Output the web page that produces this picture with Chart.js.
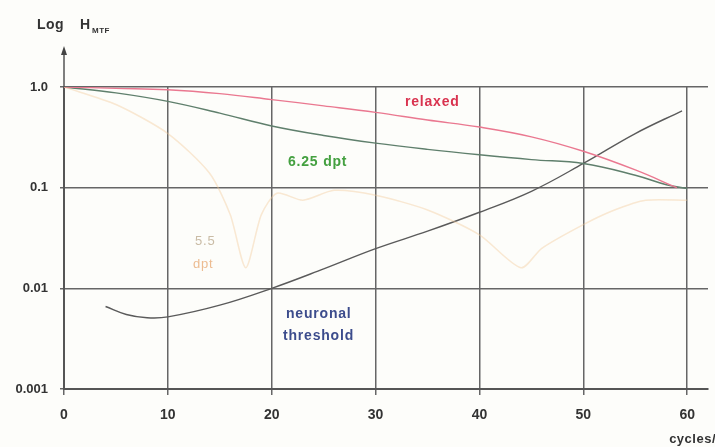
<!DOCTYPE html>
<html>
<head>
<meta charset="utf-8">
<script src="https://cdn.jsdelivr.net/npm/chart.js@4/dist/chart.umd.min.js"></script>
<style>
  html, body { margin: 0; padding: 0; background: #fdfdfa; }
  #wrap { width: 715px; height: 447px; }
</style>
</head>
<body>
<div id="wrap"><canvas id="mtfChart"></canvas></div>
<script>
// values (x = cycles/deg, y = MTF, log scale)
const relaxedX = [0, 5, 10, 15, 20, 25, 30, 35, 40, 45, 50, 55, 59]
const relaxedY = [1.0, 0.97, 0.94, 0.86, 0.75, 0.65, 0.56, 0.47, 0.40, 0.32, 0.23, 0.15, 0.10]

const dpt625X = [0, 5, 10, 15, 20, 25, 30, 35, 40, 45, 50, 55, 58, 60]
const dpt625Y = [1.0, 0.875, 0.72, 0.55, 0.41, 0.33, 0.277, 0.24, 0.212, 0.19, 0.174, 0.133, 0.107, 0.098]

const dpt55X = [0, 5, 10, 14, 16, 17.5, 19, 20.5, 23, 26, 30, 35, 40, 44, 46, 50, 53, 56, 60]
const dpt55Y = [1.0, 0.67, 0.345, 0.14, 0.054, 0.016, 0.054, 0.088, 0.075, 0.094, 0.084, 0.06, 0.034, 0.016, 0.025, 0.043, 0.06, 0.075, 0.075]

const neuronalX = [4, 6, 8, 10, 15, 20, 25, 30, 35, 40, 45, 50, 55, 59.5]
const neuronalY = [0.0066, 0.0055, 0.0051, 0.0052, 0.0068, 0.010, 0.0156, 0.0248, 0.037, 0.057, 0.092, 0.174, 0.345, 0.58]

const xTicks = [0, 10, 20, 30, 40, 50, 60]
const yTicks = [0.001, 0.01, 0.1, 1]
const yTickLabels = {0.001: '0.001', 0.01: '0.01', 0.1: '0.1', 1: '1.0'}

function toPoints(xs, ys) {
    return xs.map((x, i) => ({x: x, y: ys[i]}))
}

const textFont = '"Liberation Sans", Arial, sans-serif'

// curve labels, y-axis arrow, axis captions
const decorations = {
    id: 'decorations',
    afterDraw(chart) {
        const ctx = chart.ctx
        const area = chart.chartArea
        ctx.save()

        // y axis arrow going past 1.0
        ctx.strokeStyle = '#555'
        ctx.lineWidth = 1.5
        ctx.beginPath()
        ctx.moveTo(area.left, area.top)
        ctx.lineTo(area.left, 52)
        ctx.stroke()
        ctx.fillStyle = '#444'
        ctx.beginPath()
        ctx.moveTo(area.left, 46)
        ctx.lineTo(area.left - 3, 55)
        ctx.lineTo(area.left + 3, 55)
        ctx.closePath()
        ctx.fill()

        // axis captions
        ctx.fillStyle = '#333'
        ctx.textBaseline = 'alphabetic'
        ctx.textAlign = 'left'
        ctx.letterSpacing = '0.5px'
        ctx.font = 'bold 14px ' + textFont
        ctx.fillText('Log', 37, 29)
        ctx.fillText('H', 80, 29)
        ctx.font = 'bold 8px ' + textFont
        ctx.fillText('MTF', 92, 33)
        ctx.font = 'bold 13px ' + textFont
        ctx.textAlign = 'right'
        ctx.fillText('cycles/', 716, 443)

        // curve labels
        ctx.textAlign = 'left'
        ctx.letterSpacing = '0.8px'
        ctx.font = 'bold 14px ' + textFont
        ctx.fillStyle = '#d9334f'
        ctx.fillText('relaxed', 405, 106)
        ctx.fillStyle = '#44a040'
        ctx.fillText('6.25 dpt', 288, 166)
        ctx.fillStyle = '#3c4c8c'
        ctx.fillText('neuronal', 286, 318)
        ctx.fillText('threshold', 283, 340)
        ctx.font = '13px ' + textFont
        ctx.fillStyle = 'rgba(180, 160, 130, 0.7)'
        ctx.fillText('5.5', 195, 245)
        ctx.fillStyle = 'rgba(230, 160, 100, 0.7)'
        ctx.fillText('dpt', 193, 268)
        ctx.restore()
    }
}

new Chart('mtfChart', {
    type: 'line',
    data: {
        datasets: [
            {
                label: '5.5 dpt',
                data: toPoints(dpt55X, dpt55Y),
                borderColor: 'rgba(242, 200, 150, 0.4)',
                borderWidth: 1.5,
                tension: 0.25
            },
            {
                label: 'relaxed',
                data: toPoints(relaxedX, relaxedY),
                borderColor: '#ea7890',
                borderWidth: 1.4,
                tension: 0.4
            },
            {
                label: '6.25 dpt',
                data: toPoints(dpt625X, dpt625Y),
                borderColor: '#5f7f6c',
                borderWidth: 1.4,
                tension: 0.4
            },
            {
                label: 'neuronal threshold',
                data: toPoints(neuronalX, neuronalY),
                borderColor: '#5a5a5a',
                borderWidth: 1.4,
                tension: 0.4
            }
        ]
    },
    options: {
        responsive: true,
        maintainAspectRatio: false,
        animation: false,
        layout: {padding: {top: 87, right: 7, left: 0, bottom: 0}},
        elements: {point: {radius: 0}},
        plugins: {
            legend: {display: false},
            tooltip: {enabled: false}
        },
        scales: {
            x: {
                type: 'linear',
                min: 0,
                max: 62,
                afterBuildTicks: scale => { scale.ticks = xTicks.map(v => ({value: v})) },
                afterFit: scale => { scale.height = 58 },
                ticks: {
                    color: '#333',
                    padding: 12,
                    font: {family: textFont, size: 14, weight: 'bold'}
                },
                grid: {color: '#666', lineWidth: 1.5, tickLength: 6, drawTicks: true},
                border: {color: '#555', width: 2}
            },
            y: {
                type: 'logarithmic',
                min: 0.001,
                max: 1,
                afterBuildTicks: scale => { scale.ticks = yTicks.map(v => ({value: v})) },
                afterFit: scale => { scale.width = 64 },
                ticks: {
                    color: '#333',
                    padding: 12,
                    font: {family: textFont, size: 13, weight: 'bold'},
                    callback: v => yTickLabels[v] || ''
                },
                grid: {color: '#666', lineWidth: 1.5, tickLength: 4},
                border: {color: '#555', width: 2}
            }
        }
    },
    plugins: [decorations]
})
</script>
</body>
</html>
